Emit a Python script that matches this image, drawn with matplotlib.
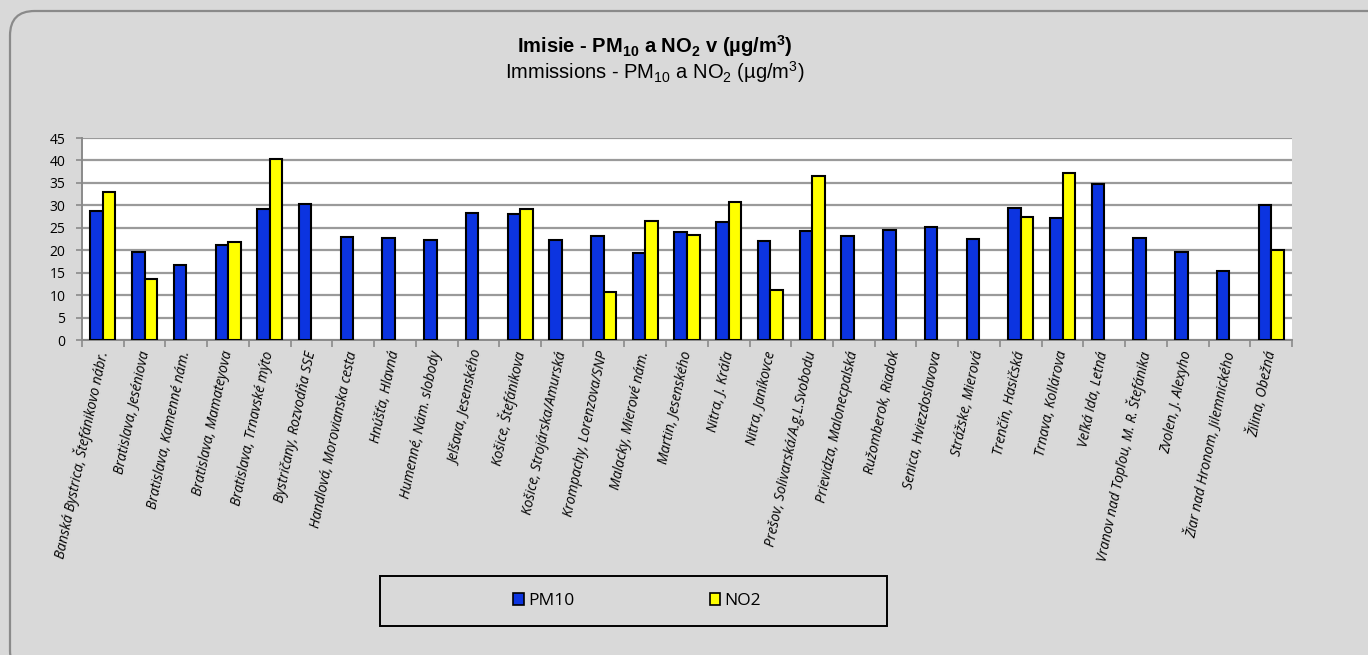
import matplotlib
matplotlib.use("Agg")
import matplotlib.pyplot as plt
import numpy as np
from matplotlib.patches import FancyBboxPatch, Rectangle, Patch

stations = [
    "Banská Bystrica, Štefánikovo nábr.", "Bratislava, Jeséniova", "Bratislava, Kamenné nám.",
    "Bratislava, Mamateyova", "Bratislava, Trnavské mýto", "Bystričany, Rozvodňa SSE",
    "Handlová, Morovianska cesta", "Hnúšťa, Hlavná", "Humenné, Nám. slobody",
    "Jelšava, Jesenského", "Košice, Štefánikova", "Košice, Strojárska/Amurská",
    "Krompachy, Lorenzova/SNP", "Malacky, Mierové nám.", "Martin, Jesenského",
    "Nitra, J. Kráľa", "Nitra, Janíkovce", "Prešov, Solivarská/A.g.L.Svobodu",
    "Prievidza, Malonecpalská", "Ružomberok, Riadok", "Senica, Hviezdoslavova",
    "Strážske, Mierová", "Trenčín, Hasičská", "Trnava, Kollárova", "Veľká Ida, Letná",
    "Vranov nad Topľou, M. R. Štefánika", "Zvolen, J. Alexyho", "Žiar nad Hronom, Jilemnického",
    "Žilina, Obežná",
]
pm10 = [28.8, 19.7, 16.7, 21.2, 29.2, 30.4, 23.0, 22.8, 22.2, 28.3, 28.0, 22.3, 23.1, 19.3,
        24.1, 26.2, 22.1, 24.2, 23.2, 24.6, 25.1, 22.5, 29.5, 27.2, 34.7, 22.8, 19.6, 15.3, 30.0]
no2 = [32.9, 13.6, np.nan, 21.9, 40.4, np.nan, np.nan, np.nan, np.nan, np.nan, 29.1, np.nan,
       10.6, 26.6, 23.5, 30.7, 11.2, 36.6, np.nan, np.nan, np.nan, np.nan, 27.3, 37.3, np.nan,
       np.nan, np.nan, np.nan, 20.0]
yticks = list(range(0, 46, 5))

W, H = 1368, 655
plt.rcParams['mathtext.fontset'] = 'custom'
plt.rcParams['mathtext.rm'] = 'Liberation Sans'
plt.rcParams['mathtext.bf'] = 'Liberation Sans:bold'
plt.rcParams['mathtext.it'] = 'Liberation Sans:italic'

fig = plt.figure(figsize=(W / 100, H / 100), dpi=100)
fig.patch.set_facecolor('#d9d9d9')

# outer rounded frame (cut by figure edge at right/bottom)
frame = FancyBboxPatch((10 / W, -20 / H), (W + 30) / W, (H - 11 + 20) / H,
                       boxstyle="round,pad=0,rounding_size=0.018", transform=fig.transFigure,
                       facecolor='#d9d9d9', edgecolor='#8a8a8a', lw=1.6, zorder=-5,
                       mutation_aspect=W / H)
fig.patches.append(frame)

ax = fig.add_axes([82 / W, (H - 340) / H, (1292 - 82) / W, (340 - 138) / H])
ax.set_facecolor('white')

n = len(stations)
x = np.arange(n)
bw = 0.3
ax.bar(x - bw / 2, pm10, bw, color='#0c34e0', edgecolor='black', lw=1.5, zorder=3, label='PM10')
ax.bar(x + bw / 2, no2, bw, color='#ffff00', edgecolor='black', lw=1.5, zorder=3, label='NO2')

ax.set_xlim(-0.5, n - 0.5)
ax.set_ylim(0, 45)
ax.set_yticks(yticks)
ax.yaxis.grid(True, color='#9a9a9a', lw=1.6, zorder=1)
ax.set_axisbelow(True)
for s in ['top', 'right']:
    ax.spines[s].set_visible(False)
for s in ['left', 'bottom']:
    ax.spines[s].set_color('#8a8a8a')
    ax.spines[s].set_linewidth(1.4)
ax.tick_params(axis='y', length=4, color='#8a8a8a', width=1.2, labelsize=10, pad=8)
ax.set_xticks(np.arange(-0.5, n, 1.0), minor=True)
ax.set_xticks(x)
ax.tick_params(axis='x', which='minor', length=5, color='#8a8a8a', width=1.2)
ax.tick_params(axis='x', which='major', length=0, pad=8)
ax.set_xticklabels(stations, rotation=78, ha='right', va='center', rotation_mode='anchor',
                   fontsize=10, fontstyle='italic', family=['Open Sans', 'DejaVu Sans'])
for lab in ax.get_yticklabels():
    lab.set_family(['Open Sans', 'DejaVu Sans'])

fig.text(655 / W, 1 - 46 / H, r'Imisie - PM$_{\mathbf{10}}$ a NO$_{\mathbf{2}}$ v (µg/m$^{\mathbf{3}}$)',
         ha='center', va='center', fontsize=14.5, fontweight='bold', family='Liberation Sans')
fig.text(655 / W, 1 - 72 / H, r'Immissions - PM$_{10}$ a NO$_{2}$ (µg/m$^{3}$)',
         ha='center', va='center', fontsize=14.5, family='Liberation Sans')

# legend box
fig.patches.append(Rectangle((380 / W, (H - 626) / H), (887 - 380) / W, 50 / H,
                             transform=fig.transFigure, facecolor='none', edgecolor='black', lw=1.4))
handles = [Patch(facecolor='#0c34e0', edgecolor='black', lw=1.2, label='PM10'),
           Patch(facecolor='#ffff00', edgecolor='black', lw=1.2, label='NO2')]
fig.legend(handles=handles, loc='center', bbox_to_anchor=(637 / W, 1 - 601 / H), ncol=2,
           frameon=False, handlelength=0.62, handleheight=0.62, handletextpad=0.25,
           columnspacing=7.8, prop={'family': 'Open Sans', 'size': 12.5})

fig.savefig('out.png', dpi=100, facecolor=fig.get_facecolor())
